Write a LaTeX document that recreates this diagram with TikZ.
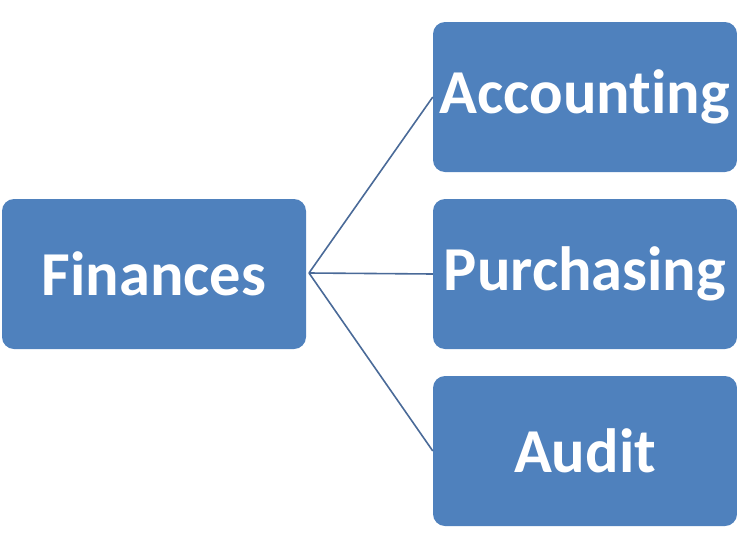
\documentclass[tikz,border=0pt]{standalone}
\usepackage{fontspec}
\setmainfont[Ligatures={NoCommon,NoDiscretionary,NoRare}]{Carlito}
\definecolor{boxblue}{HTML}{4F81BD}
\definecolor{linkblue}{HTML}{4A6A98}
\begin{document}
\begin{tikzpicture}[x=1pt,y=-1pt,
  box/.style={fill=boxblue, draw=none, rounded corners=12pt, minimum width=304pt, minimum height=150pt, inner sep=0pt, text=white, font=\fontsize{62.5}{70}\selectfont\bfseries},
  link/.style={draw=linkblue, line width=1.6pt}]
\useasboundingbox (0,0) rectangle (737,544);
\node[box] (fin) at (154,274) {Finances};
\node[box] (acc) at (585,97) {Accounting};
\node[box] (pur) at (585,274) {Purchasing};
\node[box] (aud) at (585,451) {Audit};
\coordinate (hub) at (309,273);
\draw[link] (hub) -- (acc.west);
\draw[link] (hub) -- (pur.west);
\draw[link] (hub) -- (aud.west);
\end{tikzpicture}
\end{document}
